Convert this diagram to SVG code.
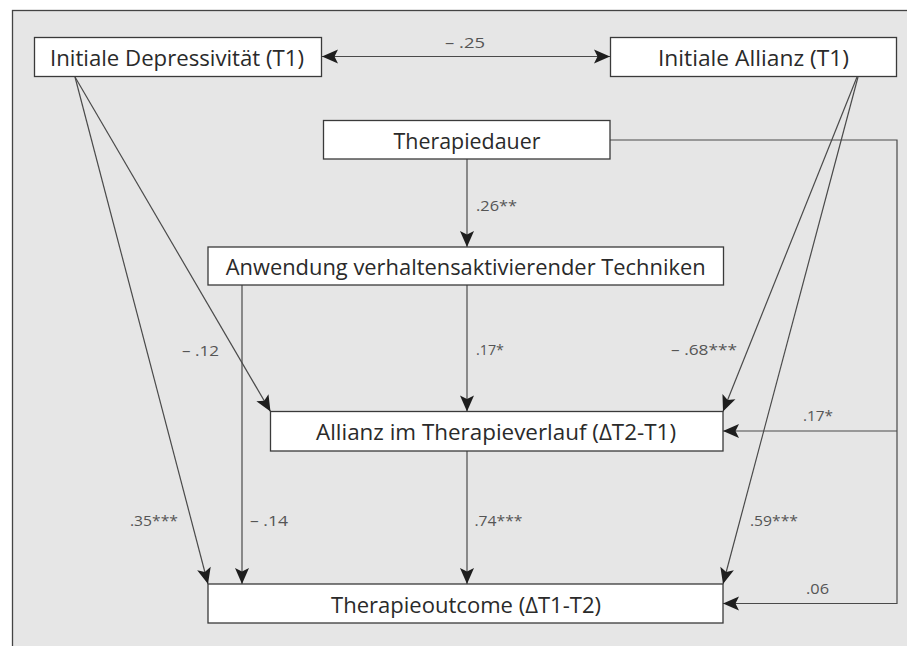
<svg xmlns="http://www.w3.org/2000/svg" width="907" height="646" viewBox="0 0 907 646">
<style>
.box{fill:#ffffff;stroke:#3a3a3a;stroke-width:1.3}
.nt{font-family:"Open Sans","Liberation Sans",sans-serif;font-size:21px;fill:#2a2a2a;text-anchor:middle}
.lb{font-family:"Open Sans","Liberation Sans",sans-serif;font-size:15px;fill:#555}
.ln{fill:none;stroke:#4a4a4a;stroke-width:1.2}
</style>
<defs>
<marker id="ah" markerUnits="userSpaceOnUse" markerWidth="17" markerHeight="14" refX="16" refY="7" orient="auto" overflow="visible">
<path d="M0,0 L16,7 L0,14 L3.5,7 Z" fill="#1e1e1e"/>
</marker>
<marker id="ahs" markerUnits="userSpaceOnUse" markerWidth="17" markerHeight="14" refX="16" refY="7" orient="auto-start-reverse" overflow="visible">
<path d="M0,0 L16,7 L0,14 L3.5,7 Z" fill="#1e1e1e"/>
</marker>
</defs>
<rect x="12.5" y="10.5" width="900" height="640" fill="#e6e6e6" stroke="#444" stroke-width="1.3"/>
<g id="connectors">
<line class="ln" x1="322" y1="56.5" x2="610" y2="56.5" marker-start="url(#ahs)" marker-end="url(#ahs)"/>
<line class="ln" x1="467" y1="159" x2="467" y2="247" marker-end="url(#ah)"/>
<line class="ln" x1="467" y1="285" x2="467" y2="411.5" marker-end="url(#ah)"/>
<line class="ln" x1="242" y1="285" x2="242" y2="584" marker-end="url(#ah)"/>
<line class="ln" x1="467" y1="451" x2="467" y2="584" marker-end="url(#ah)"/>
<line class="ln" x1="75" y1="77" x2="270.5" y2="411.5" marker-end="url(#ah)"/>
<line class="ln" x1="75" y1="77" x2="208" y2="584" marker-end="url(#ah)"/>
<line class="ln" x1="857" y1="77" x2="723" y2="411.5" marker-end="url(#ah)"/>
<line class="ln" x1="858" y1="77" x2="723" y2="584" marker-end="url(#ah)"/>
<polyline class="ln" points="610,140 897,140 897,603.5 723,603.5" marker-end="url(#ah)"/>
<line class="ln" x1="897" y1="431" x2="723" y2="431" marker-end="url(#ah)"/>
</g>
<g id="labels">
<text class="lb" x="445" y="48" textLength="40" lengthAdjust="spacingAndGlyphs">– .25</text>
<text class="lb" x="476" y="211" textLength="41" lengthAdjust="spacingAndGlyphs">.26**</text>
<text class="lb" x="182" y="356" textLength="37" lengthAdjust="spacingAndGlyphs">– .12</text>
<text class="lb" x="476" y="355" textLength="28" lengthAdjust="spacingAndGlyphs">.17*</text>
<text class="lb" x="671" y="355" textLength="66" lengthAdjust="spacingAndGlyphs">– .68***</text>
<text class="lb" x="803" y="421" textLength="30" lengthAdjust="spacingAndGlyphs">.17*</text>
<text class="lb" x="130" y="526" textLength="48" lengthAdjust="spacingAndGlyphs">.35***</text>
<text class="lb" x="250" y="526" textLength="38" lengthAdjust="spacingAndGlyphs">– .14</text>
<text class="lb" x="474.5" y="526" textLength="48" lengthAdjust="spacingAndGlyphs">.74***</text>
<text class="lb" x="750" y="526" textLength="48" lengthAdjust="spacingAndGlyphs">.59***</text>
<text class="lb" x="806" y="594" textLength="23" lengthAdjust="spacingAndGlyphs">.06</text>
</g>
<g id="node-depressivitaet">
<rect class="box" x="34.5" y="37.5" width="287" height="39"/>
<text class="nt" x="177" y="65.5" textLength="254" lengthAdjust="spacingAndGlyphs">Initiale Depressivität (T1)</text>
</g>
<g id="node-allianz-t1">
<rect class="box" x="610.5" y="37.5" width="286" height="39"/>
<text class="nt" x="753.5" y="65.5" textLength="191" lengthAdjust="spacingAndGlyphs">Initiale Allianz (T1)</text>
</g>
<g id="node-therapiedauer">
<rect class="box" x="323.5" y="120.5" width="286.5" height="38.5"/>
<text class="nt" x="467" y="149" textLength="147" lengthAdjust="spacingAndGlyphs">Therapiedauer</text>
</g>
<g id="node-anwendung">
<rect class="box" x="208" y="247" width="515.5" height="38"/>
<text class="nt" x="465.7" y="275" textLength="480" lengthAdjust="spacingAndGlyphs">Anwendung verhaltensaktivierender Techniken</text>
</g>
<g id="node-allianz-verlauf">
<rect class="box" x="270.5" y="411.5" width="452.5" height="39.5"/>
<text class="nt" x="496" y="440" textLength="360" lengthAdjust="spacingAndGlyphs">Allianz im Therapieverlauf (ΔT2-T1)</text>
</g>
<g id="node-outcome">
<rect class="box" x="208" y="584" width="515" height="39"/>
<text class="nt" x="466" y="613" textLength="270" lengthAdjust="spacingAndGlyphs">Therapieoutcome (ΔT1-T2)</text>
</g>
</svg>
